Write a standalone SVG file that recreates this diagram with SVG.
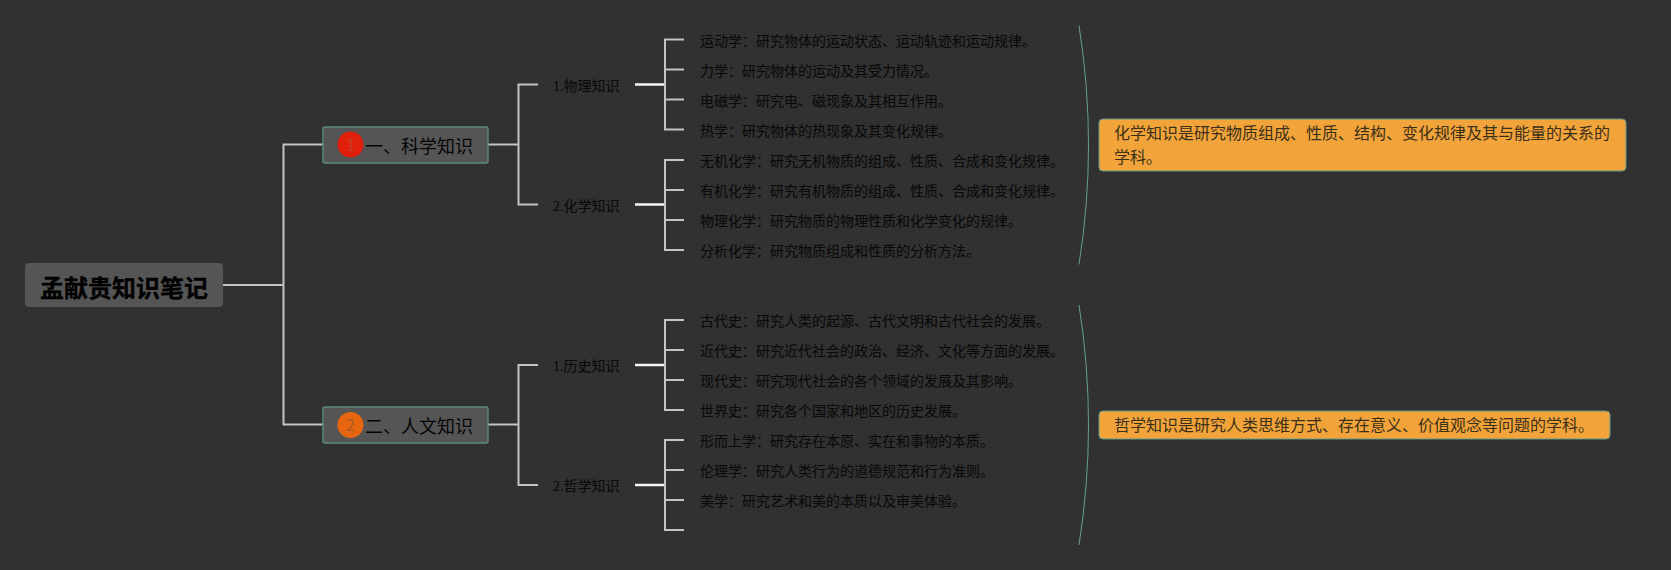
<svg xmlns="http://www.w3.org/2000/svg" width="1671" height="570" viewBox="0 0 1671 570">
<style>
text{font-family:"Liberation Serif","Noto Sans CJK SC",serif;fill:#0a0a0a}
.cjk{font-family:"Noto Sans CJK SC","Liberation Sans",sans-serif}
.leaf{font-size:14px;fill:#0a0a0a;stroke:#0a0a0a;stroke-width:.1}
.sub{font-size:14px;fill:#0a0a0a;stroke:#0a0a0a;stroke-width:.1}
.main{font-size:18px;fill:#050505}
.root{font-size:24px;font-weight:700;fill:#000;stroke:#000;stroke-width:.3}
.num{font-size:16px;text-anchor:middle}
.note{font-size:16px;fill:#3a3018}
.c{fill:none;stroke:#c4c4c4;stroke-width:2}
.w{fill:none;stroke:#f5f5f5;stroke-width:2.400}
.b{fill:none;stroke:#64a08e;stroke-width:1}
.m{fill:#555;stroke:#5b8a7c;stroke-width:1.400}
.o{fill:#f2a33a;stroke:#5f9a8a;stroke-width:1}
</style>
<rect width="1671" height="570" fill="#313131"/>
<g id="connectors">
<path class="c" d="M223 285H283.500M323 144.500H283.500V424.500H323"/>
<path class="c" d="M488 144.500H518.500M538 84.500H518.500V204.500H538"/>
<path class="c" d="M488 424.500H518.500M538 365H518.500V485H538"/>
<path class="w" d="M635 84.500H665M635 204.500H665M635 365H665M635 485H665"/>
<path class="c" d="M684 39.500H665V129.500H684M665 69.500H684M665 99.500H684"/>
<path class="c" d="M684 160H665V250H684M665 190H684M665 220H684"/>
<path class="c" d="M684 320H665V410H684M665 350H684M665 380H684"/>
<path class="c" d="M684 440H665V530H684M665 470H684M665 500H684"/>
<path class="b" d="M1079 25.500Q1098 145 1079 264.500"/>
<path class="b" d="M1079 305Q1098 425 1079 545"/>
</g>
<g id="root"><rect x="25" y="263" width="198" height="44" rx="4" fill="#555"/><text class="cjk root" x="40" y="296.500">孟献贵知识笔记</text></g>
<g id="n1"><rect class="m" x="323" y="127" width="165" height="36" rx="2"/><circle cx="350.500" cy="144.500" r="13" fill="#e0200a"/><text class="cjk num" style="fill:#c8402c" x="350.500" y="150.500">1</text><text class="cjk main" x="365" y="153">一、科学知识</text></g>
<g id="n2"><rect class="m" x="323" y="407" width="165" height="36" rx="2"/><circle cx="350.500" cy="425" r="13" fill="#e8650f"/><text class="cjk num" style="fill:#a85c24" x="350.500" y="431">2</text><text class="cjk main" x="365" y="433">二、人文知识</text></g>
<g id="s1"><text class="sub" x="553" y="91">1.物理知识</text></g>
<g id="s2"><text class="sub" x="553" y="211">2.化学知识</text></g>
<g id="s3"><text class="sub" x="553" y="371">1.历史知识</text></g>
<g id="s4"><text class="sub" x="553" y="491">2.哲学知识</text></g>
<g id="l1"><text class="leaf" x="700" y="46">运动学：研究物体的运动状态、运动轨迹和运动规律。</text></g>
<g id="l2"><text class="leaf" x="700" y="76">力学：研究物体的运动及其受力情况。</text></g>
<g id="l3"><text class="leaf" x="700" y="106">电磁学：研究电、磁现象及其相互作用。</text></g>
<g id="l4"><text class="leaf" x="700" y="136">热学：研究物体的热现象及其变化规律。</text></g>
<g id="l5"><text class="leaf" x="700" y="166">无机化学：研究无机物质的组成、性质、合成和变化规律。</text></g>
<g id="l6"><text class="leaf" x="700" y="196">有机化学：研究有机物质的组成、性质、合成和变化规律。</text></g>
<g id="l7"><text class="leaf" x="700" y="226">物理化学：研究物质的物理性质和化学变化的规律。</text></g>
<g id="l8"><text class="leaf" x="700" y="256">分析化学：研究物质组成和性质的分析方法。</text></g>
<g id="l9"><text class="leaf" x="700" y="326">古代史：研究人类的起源、古代文明和古代社会的发展。</text></g>
<g id="l10"><text class="leaf" x="700" y="356">近代史：研究近代社会的政治、经济、文化等方面的发展。</text></g>
<g id="l11"><text class="leaf" x="700" y="386">现代史：研究现代社会的各个领域的发展及其影响。</text></g>
<g id="l12"><text class="leaf" x="700" y="416">世界史：研究各个国家和地区的历史发展。</text></g>
<g id="l13"><text class="leaf" x="700" y="446">形而上学：研究存在本原、实在和事物的本质。</text></g>
<g id="l14"><text class="leaf" x="700" y="476">伦理学：研究人类行为的道德规范和行为准则。</text></g>
<g id="l15"><text class="leaf" x="700" y="506">美学：研究艺术和美的本质以及审美体验。</text></g>
<g id="note1"><rect class="o" x="1099" y="119" width="527" height="52" rx="4"/><text class="note cjk" x="1114" y="138.500">化学知识是研究物质组成、性质、结构、变化规律及其与能量的关系的</text><text class="note cjk" x="1114" y="162.500">学科。</text></g>
<g id="note2"><rect class="o" x="1099" y="411" width="511" height="28" rx="4"/><text class="note cjk" x="1114" y="431">哲学知识是研究人类思维方式、存在意义、价值观念等问题的学科。</text></g>
</svg>
